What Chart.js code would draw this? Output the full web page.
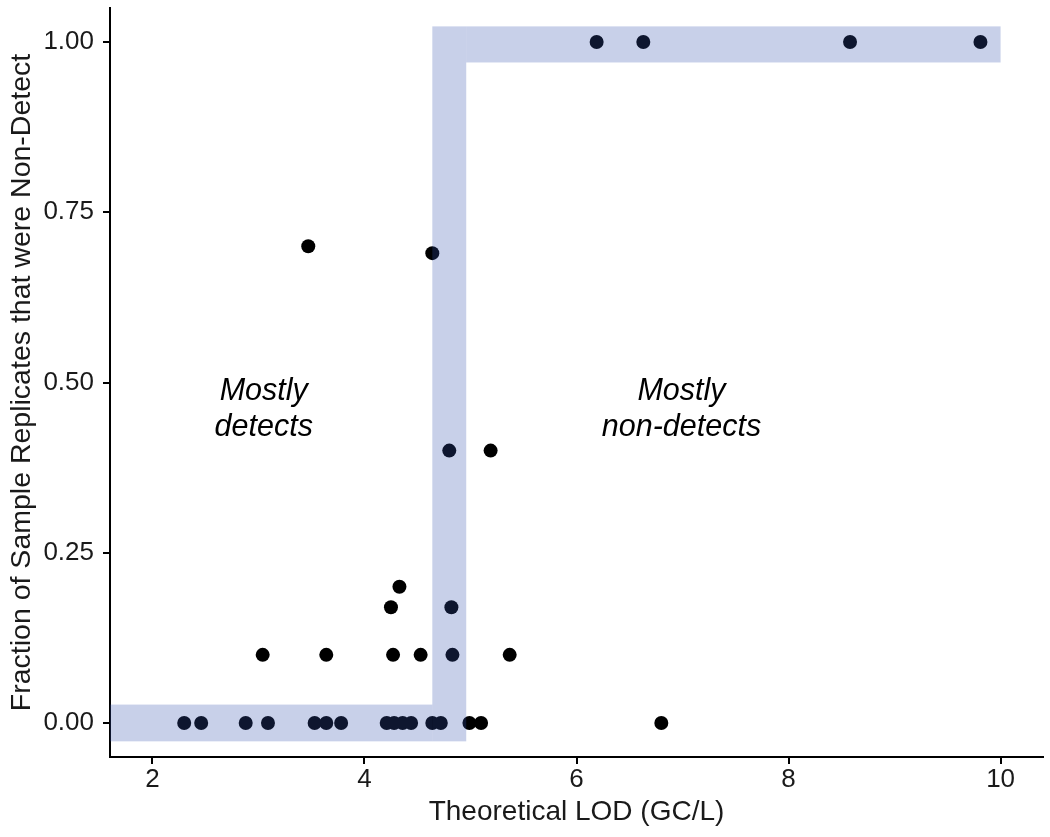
<!DOCTYPE html>
<html><head><meta charset="utf-8">
<script src="https://cdn.jsdelivr.net/npm/chart.js@4.4.1/dist/chart.umd.min.js"></script>
<style>html,body{margin:0;padding:0;background:#fff}#wrap{width:1050px;height:837px;position:relative}</style>
</head><body><div id="wrap"><canvas id="c" width="1050" height="837"></canvas></div>
<script>
// Data
const lodValues = [2.30, 2.46, 2.88, 3.09, 3.53, 3.64, 3.78, 4.21, 4.28, 4.36, 4.44, 4.64, 4.72, 4.99, 5.10, 6.80,
                   3.04, 3.64, 4.27, 4.53, 4.83, 5.37,
                   4.25, 4.82,
                   4.33,
                   4.80, 5.19,
                   4.64, 3.47,
                   6.19, 6.63, 8.58, 9.81];
const fractionValues = [0,0,0,0,0,0,0,0,0,0,0,0,0,0,0,0,
                        0.10,0.10,0.10,0.10,0.10,0.10,
                        0.17,0.17,
                        0.20,
                        0.40,0.40,
                        0.69,0.70,
                        1,1,1,1];
const xTicks = [2, 4, 6, 8, 10];
const yTicks = [0, 0.25, 0.5, 0.75, 1];
// Step-shaped band: three segments
const bandXStart = [1.6, 4.64, 4.96];
const bandXEnd   = [4.64, 4.96, 10.0];
const bandYLow   = [-0.027, -0.027, 0.970];
const bandYHigh  = [0.027, 1.023, 1.023];
// Region annotations
const noteLines = [["Mostly", "detects"], ["Mostly", "non-detects"]];
const noteX = [3.05, 6.99];
const noteY = [0.461, 0.461];

const FONT = "'Liberation Sans', Arial, Helvetica, sans-serif";

const points = lodValues.map((v, i) => ({x: v, y: fractionValues[i]}));

const bandPlugin = {
  id: 'band',
  afterDatasetsDraw(chart) {
    const {ctx, chartArea: a, scales: {x, y}} = chart;
    ctx.save();
    ctx.beginPath();
    ctx.rect(a.left, a.top, a.right - a.left, a.bottom - a.top);
    ctx.clip();
    ctx.fillStyle = 'rgba(51,81,174,0.27)';
    for (let i = 0; i < bandXStart.length; i++) {
      const x0 = x.getPixelForValue(bandXStart[i]);
      const x1 = x.getPixelForValue(bandXEnd[i]);
      const y0 = y.getPixelForValue(bandYHigh[i]);
      const y1 = y.getPixelForValue(bandYLow[i]);
      ctx.fillRect(x0, y0, x1 - x0, y1 - y0);
    }
    ctx.restore();
  }
};

const notePlugin = {
  id: 'notes',
  afterDraw(chart) {
    const {ctx, scales: {x, y}} = chart;
    ctx.save();
    ctx.fillStyle = '#000';
    ctx.font = 'italic 30.5px ' + FONT;
    ctx.textAlign = 'center';
    ctx.textBaseline = 'middle';
    const lh = 36;
    noteLines.forEach((lines, i) => {
      const cx = x.getPixelForValue(noteX[i]);
      const cy = y.getPixelForValue(noteY[i]);
      lines.forEach((t, j) => {
        ctx.fillText(t, cx, cy + (j - (lines.length - 1) / 2) * lh);
      });
    });
    ctx.restore();
  }
};

new Chart(document.getElementById('c'), {
  type: 'scatter',
  data: {
    datasets: [{
      data: points,
      pointRadius: 7,
      pointHoverRadius: 7,
      backgroundColor: '#000',
      borderWidth: 0
    }]
  },
  options: {
    responsive: false,
    animation: false,
    devicePixelRatio: 1,
    layout: {padding: {left: 0, right: 7, top: 8, bottom: 0}},
    plugins: {legend: {display: false}, tooltip: {enabled: false}},
    scales: {
      x: {
        type: 'linear',
        min: 1.6, max: 10.4,
        afterBuildTicks: s => { s.ticks = xTicks.map(v => ({value: v})); },
        afterFit: s => { s.height = 80; s.paddingLeft = 0; s.paddingRight = 0; },
        ticks: {font: {family: FONT, size: 26}, color: '#1a1a1a', padding: 0, callback: v => String(v)},
        grid: {drawOnChartArea: false, drawTicks: true, tickLength: 7, color: '#000', lineWidth: 2},
        border: {display: true, color: '#000', width: 2},
        title: {display: true, text: 'Theoretical LOD (GC/L)', color: '#1a1a1a',
                font: {family: FONT, size: 28}, padding: {top: 0, bottom: 8}}
      },
      y: {
        type: 'linear',
        min: -0.05, max: 1.05,
        afterBuildTicks: s => { s.ticks = yTicks.map(v => ({value: v})); },
        afterFit: s => { s.width = 110; s.paddingTop = 0; s.paddingBottom = 0; },
        ticks: {font: {family: FONT, size: 26}, color: '#1a1a1a', padding: 9, callback: v => Number(v).toFixed(2)},
        grid: {drawOnChartArea: false, drawTicks: true, tickLength: 7, color: '#000', lineWidth: 2},
        border: {display: true, color: '#000', width: 2},
        title: {display: true, text: 'Fraction of Sample Replicates that were Non-Detect', color: '#1a1a1a',
                font: {family: FONT, size: 28.5}, padding: {top: 5, bottom: 0}}
      }
    }
  },
  plugins: [bandPlugin, notePlugin]
});
</script></body></html>
